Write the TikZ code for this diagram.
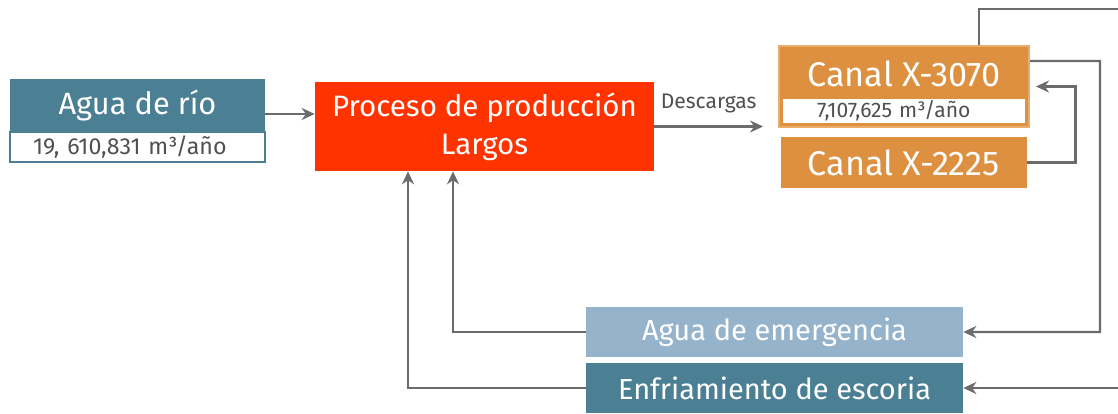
\documentclass[tikz,border=0pt]{standalone}
\usepackage{fontspec}
\setmainfont{Fira Sans}
\usetikzlibrary{arrows.meta,positioning}

\definecolor{azulrio}{HTML}{4A7F94}
\definecolor{rojoproc}{HTML}{FF3300}
\definecolor{naranja}{HTML}{DD9040}
\definecolor{naranjaborde}{HTML}{EAAE6C}
\definecolor{azulclaro}{HTML}{96B3CC}
\definecolor{gris}{HTML}{6B6B6B}
\definecolor{textogris}{HTML}{505050}

\tikzset{
  caja/.style={rectangle, inner sep=0pt, text=white, font=\fontsize{16.5}{19}\selectfont},
  franja/.style={rectangle, fill=white, inner ysep=0pt, text=textogris, align=left},
  linea/.style={draw=gris, line width=1.4pt},
  flecha/.style={linea, -{Stealth[length=0.26cm,width=0.24cm]}},
}

\begin{document}
\begin{tikzpicture}[x=0.02cm, y=-0.02cm]
    \useasboundingbox (0,0) rectangle (1118,413);
    % Entrada de agua de rio
    \node[caja, fill=azulrio, minimum width=5.1cm, minimum height=1.04cm, font=\fontsize{17.5}{20}\selectfont] (riotitulo) at (137.5,105) {Agua de río};
    \node[franja, draw=azulrio, line width=1pt, below=0pt of riotitulo, minimum width=5.1cm, minimum height=0.6cm,
          inner xsep=0.46cm, text width=4.18cm, font=\fontsize{13.2}{15}\selectfont] (riodato) {19, 610,831 m³/año};
    % Proceso central
    \node[caja, fill=rojoproc, minimum width=6.78cm, minimum height=1.78cm, align=center,
          font=\fontsize{16.8}{21.5}\selectfont] (proceso) at (484.5,126.5) {Proceso de producción\\Largos};
    % Canales
    \node[caja, fill=naranja, draw=naranjaborde, line width=1.2pt, minimum width=5cm, minimum height=1.62cm] (c3070) at (904,86.5) {};
    \node[caja, font=\fontsize{19.5}{22}\selectfont] (c3070titulo) at (904,74) {Canal X-3070};
    \node[franja, minimum width=4.84cm, minimum height=0.48cm, inner xsep=0.68cm, text width=3.48cm,
          font=\fontsize{12}{14}\selectfont] (c3070dato) at (904,111) {7,107,625 m³/año};
    \node[caja, fill=naranja, minimum width=4.92cm, minimum height=1.02cm, font=\fontsize{19.5}{22}\selectfont] (c2225) at (904,162.5) {Canal X-2225};
    % Usos de retorno
    \node[caja, fill=azulclaro, minimum width=7.54cm, minimum height=1cm] (emergencia) at (774.5,332) {Agua de emergencia};
    \node[caja, fill=azulrio, minimum width=7.54cm, minimum height=1cm] (enfriamiento) at (774.5,388) {Enfriamiento de escoria};
    % Puntos libres
    \coordinate (finDescarga) at (763,126.5);
    \coordinate (salidaNorte) at (1118,9);
    \coordinate (codoEste) at (1100,61);
    \coordinate (entradaEste) at (1118,388);
    % Conexiones
    \draw[flecha] ([yshift=-0.18cm]riotitulo.east) -- ([yshift=-0.18cm]riotitulo.east -| proceso.west);
    \draw[flecha] (proceso.east) -- node[above=0.25cm, inner sep=0pt, text=textogris, font=\fontsize{12}{14}\selectfont] {Descargas} (finDescarga);
    \draw[linea] ([xshift=1.5cm]c3070.north) |- (salidaNorte);
    \draw[flecha] ([yshift=0.51cm]c3070.east) -- (codoEste) |- (emergencia.east);
    \draw[flecha] (c2225.east) -- ++(48,0) |- ([xshift=0.12cm]c3070.east);
    \draw[flecha] (entradaEste) -- (enfriamiento.east);
    \draw[flecha] (emergencia.west) -| ([xshift=-0.63cm]proceso.south);
    \draw[flecha] (enfriamiento.west) -| ([xshift=-1.53cm]proceso.south);
\end{tikzpicture}
\end{document}
